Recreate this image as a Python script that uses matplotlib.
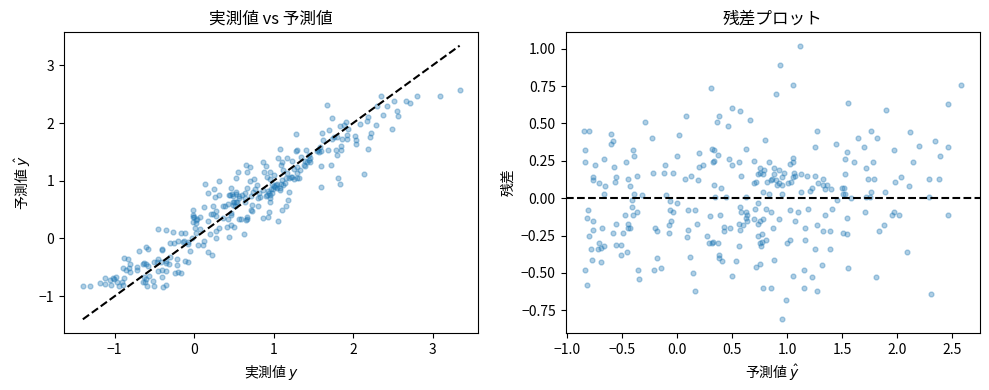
import numpy as np
import matplotlib
matplotlib.use("Agg")
import matplotlib.pyplot as plt

plt.rcParams['font.family'] = ['Noto Sans CJK JP', 'DejaVu Sans']
plt.rcParams['axes.unicode_minus'] = True

# predicted values (y-hat) and residuals (y - y-hat)
yhat = np.array([
    -0.84, -0.80, -0.60, -0.29, 0.08, 0.02,
    1.12, 0.94, 0.31, 1.05, 0.90, 0.50, 0.57, 0.38, 0.36, 0.66, 0.46, 1.27,
    1.55, 1.90, 2.46, 2.58, 1.76, 2.12,
    -0.23, -0.58, -0.60, -0.40, -0.83, -0.39, -0.66, 0.00, -0.83, -0.74, -0.46, -0.57, -0.11, -0.22, -0.12,
    -0.04, -0.36, -0.55, -0.76, -0.76, -0.44, -0.56, -0.71, -0.65, -0.43, 0.13, 0.07, -0.66, -0.39, -0.32,
    -0.10, -0.41, -0.06, 0.00, -0.81, -0.41, -0.36, -0.06, -0.04, 0.10, 0.16, -0.82, -0.47, -0.40, -0.76,
    -0.05, -0.44, -0.44, -0.43, -0.55, -0.07, -0.20, -0.18, -0.76, -0.68, -0.58, -0.49, -0.07, 0.10,
    0.80, 0.63, 0.32, 0.34, 0.37, 0.20, 1.25, 0.34, 0.33, 0.47, 0.50, 0.56, 0.20, 0.24, 0.70, 1.05, 1.05,
    1.03, 0.84, 0.75, 0.79, 0.75, 0.78, 0.74, 0.88, 0.93, 0.97, 0.58, 0.88, 0.95, 0.86, 0.85, 0.90, 0.93,
    0.95, 0.91, 0.82, 0.72, 0.70, 1.06, 1.13, 1.18, 1.25, 1.05, 1.07, 1.04, 1.01, 1.33, 1.28, 1.33, 1.36,
    1.34, 1.40, 0.19, 0.34, 0.40, 1.23, 1.21, 1.13, 0.78, 0.84, 0.95, 0.35, 0.45, 0.63, 0.74, 0.57, 0.71,
    0.81, 0.85, 1.03, 1.10, 1.19, 0.58, 0.63, 0.64, 0.30, 0.39, 1.34, 0.63, 0.70, 0.78, 0.75, 0.93, 1.07,
    0.64, 0.18, 0.56, 0.60, 0.74, 0.43, 0.48, 0.87, 1.16, 1.27, 0.57, 0.43, 1.33, 1.39,
    1.64, 1.82, 1.44, 1.70, 1.54, 1.97, 2.20, 2.34, 2.46, 1.53, 1.61, 1.78, 2.39, 2.14, 1.72, 1.53, 1.73,
    1.79, 1.98, 2.03, 2.11, 2.29, 2.38, 1.50, 1.52, 1.51, 1.53, 1.89, 1.76, 1.75, 1.72, 1.45, 1.58, 2.29,
    1.41, 1.71, 1.97, 1.95, 2.02, 2.46, 1.54, 1.88, 1.83, 1.51,
    -0.80, 0.09, -0.71, -0.78, -0.72, -0.69, -0.66, -0.55, -0.51, -0.51, -0.45, -0.77, -0.69, -0.18, 0.12,
    -0.83, -0.35, -0.21, -0.14, 0.15, -0.34, -0.82, 0.16,
    0.27, 0.29, 0.33, 0.32, 0.37, 0.56, 0.74, 0.77, 0.81, 0.75, 0.77, 0.76, 1.03, 1.00, 1.16, 1.25, 1.39,
    0.38, 0.38, 0.41, 0.54, 0.72, 0.75, 0.88, 1.32, 0.50, 1.05, 1.15, 1.23, 0.78, 0.85, 1.15, 1.27, 0.99, 0.95,
    1.54, 2.09, 1.55, 1.81, 2.31,
])
resid = np.array([
    0.45, 0.45, 0.43, 0.51, 0.55, 0.42,
    1.02, 0.89, 0.74, 0.76, 0.70, 0.60, 0.58, 0.55, 0.51, 0.52, 0.48, 0.45,
    0.64, 0.59, 0.63, 0.76, 0.45, 0.44,
    0.40, 0.38, 0.36, 0.32, 0.32, 0.28, 0.26, 0.28, 0.24, 0.22, 0.24, 0.21, 0.22, 0.17, 0.17,
    0.17, 0.15, 0.14, 0.14, 0.12, 0.13, 0.11, 0.10, 0.08, 0.08, 0.15, 0.13, 0.03, 0.03, 0.02,
    0.02, -0.01, -0.02, -0.03, -0.08, -0.06, -0.09, -0.08, -0.09, -0.08, -0.08, -0.13, -0.11, -0.11, -0.15,
    -0.15, -0.17, -0.20, -0.20, -0.17, -0.18, -0.20, -0.22, -0.21, -0.20, -0.23, -0.23, -0.23, -0.21,
    0.39, 0.33, 0.33, 0.32, 0.29, 0.30, 0.34, 0.25, 0.24, 0.26, 0.22, 0.24, 0.21, 0.22, 0.25, 0.27, 0.24,
    0.23, 0.24, 0.20, 0.19, 0.17, 0.16, 0.16, 0.20, 0.19, 0.17, 0.15, 0.16, 0.14, 0.13, 0.12, 0.12, 0.10,
    0.09, 0.09, 0.11, 0.11, 0.10, 0.17, 0.16, 0.15, 0.15, 0.14, 0.15, 0.11, 0.10, 0.13, 0.10, 0.09, 0.09,
    0.06, 0.06, 0.12, 0.09, 0.07, 0.07, 0.05, 0.04, 0.04, 0.03, 0.03, 0.01, 0.01, 0.01, -0.03, -0.06, -0.07,
    -0.07, -0.09, -0.08, -0.09, -0.07, -0.09, -0.09, -0.11, -0.12, -0.11, -0.11, -0.13, -0.14, -0.14, -0.15, -0.14, -0.15,
    -0.15, -0.17, -0.17, -0.18, -0.17, -0.19, -0.20, -0.20, -0.20, -0.18, -0.21, -0.22, -0.22, -0.22,
    0.40, 0.40, 0.36, 0.34, 0.31, 0.32, 0.35, 0.38, 0.34, 0.26, 0.24, 0.24, 0.28, 0.24, 0.20, 0.16, 0.13,
    0.13, 0.11, 0.14, 0.08, 0.13, 0.13, 0.07, 0.07, 0.03, 0.03, 0.04, 0.04, 0.01, 0.01, -0.01, 0.00, 0.01,
    -0.07, -0.09, -0.09, -0.11, -0.11, -0.11, -0.13, -0.18, -0.22, -0.23,
    -0.25, -0.26, -0.30, -0.34, -0.34, -0.33, -0.32, -0.31, -0.31, -0.38, -0.36, -0.41, -0.43, -0.40, -0.39,
    -0.48, -0.48, -0.48, -0.47, -0.50, -0.54, -0.58, -0.62,
    -0.25, -0.30, -0.29, -0.30, -0.30, -0.32, -0.25, -0.24, -0.28, -0.30, -0.29, -0.32, -0.28, -0.30, -0.28, -0.34, -0.34,
    -0.38, -0.40, -0.42, -0.42, -0.46, -0.44, -0.41, -0.45, -0.52, -0.52, -0.48, -0.53, -0.60, -0.60, -0.60, -0.62, -0.68, -0.81,
    -0.24, -0.36, -0.47, -0.53, -0.64,
])
y_true = yhat + resid

fig, (ax1, ax2) = plt.subplots(1, 2, figsize=(9.89, 3.9), dpi=100)
fig.subplots_adjust(left=64 / 989, right=980 / 989, bottom=1 - 333 / 390, top=1 - 32 / 390, wspace=0.21)

ax1.scatter(y_true, yhat, s=12, alpha=0.35, color='#1f77b4')
lims = [y_true.min(), y_true.max()]
ax1.plot(lims, lims, 'k--')
ax1.set_xlabel('実測値 $y$')
ax1.set_ylabel('予測値 $\\hat{y}$')
ax1.set_title('実測値 vs 予測値')

ax2.scatter(yhat, resid, s=12, alpha=0.35, color='#1f77b4')
ax2.axhline(0, color='k', linestyle='--')
ax2.set_xlabel('予測値 $\\hat{y}$')
ax2.set_ylabel('残差')
ax2.set_title('残差プロット')

fig.savefig('out.png', dpi=100)
